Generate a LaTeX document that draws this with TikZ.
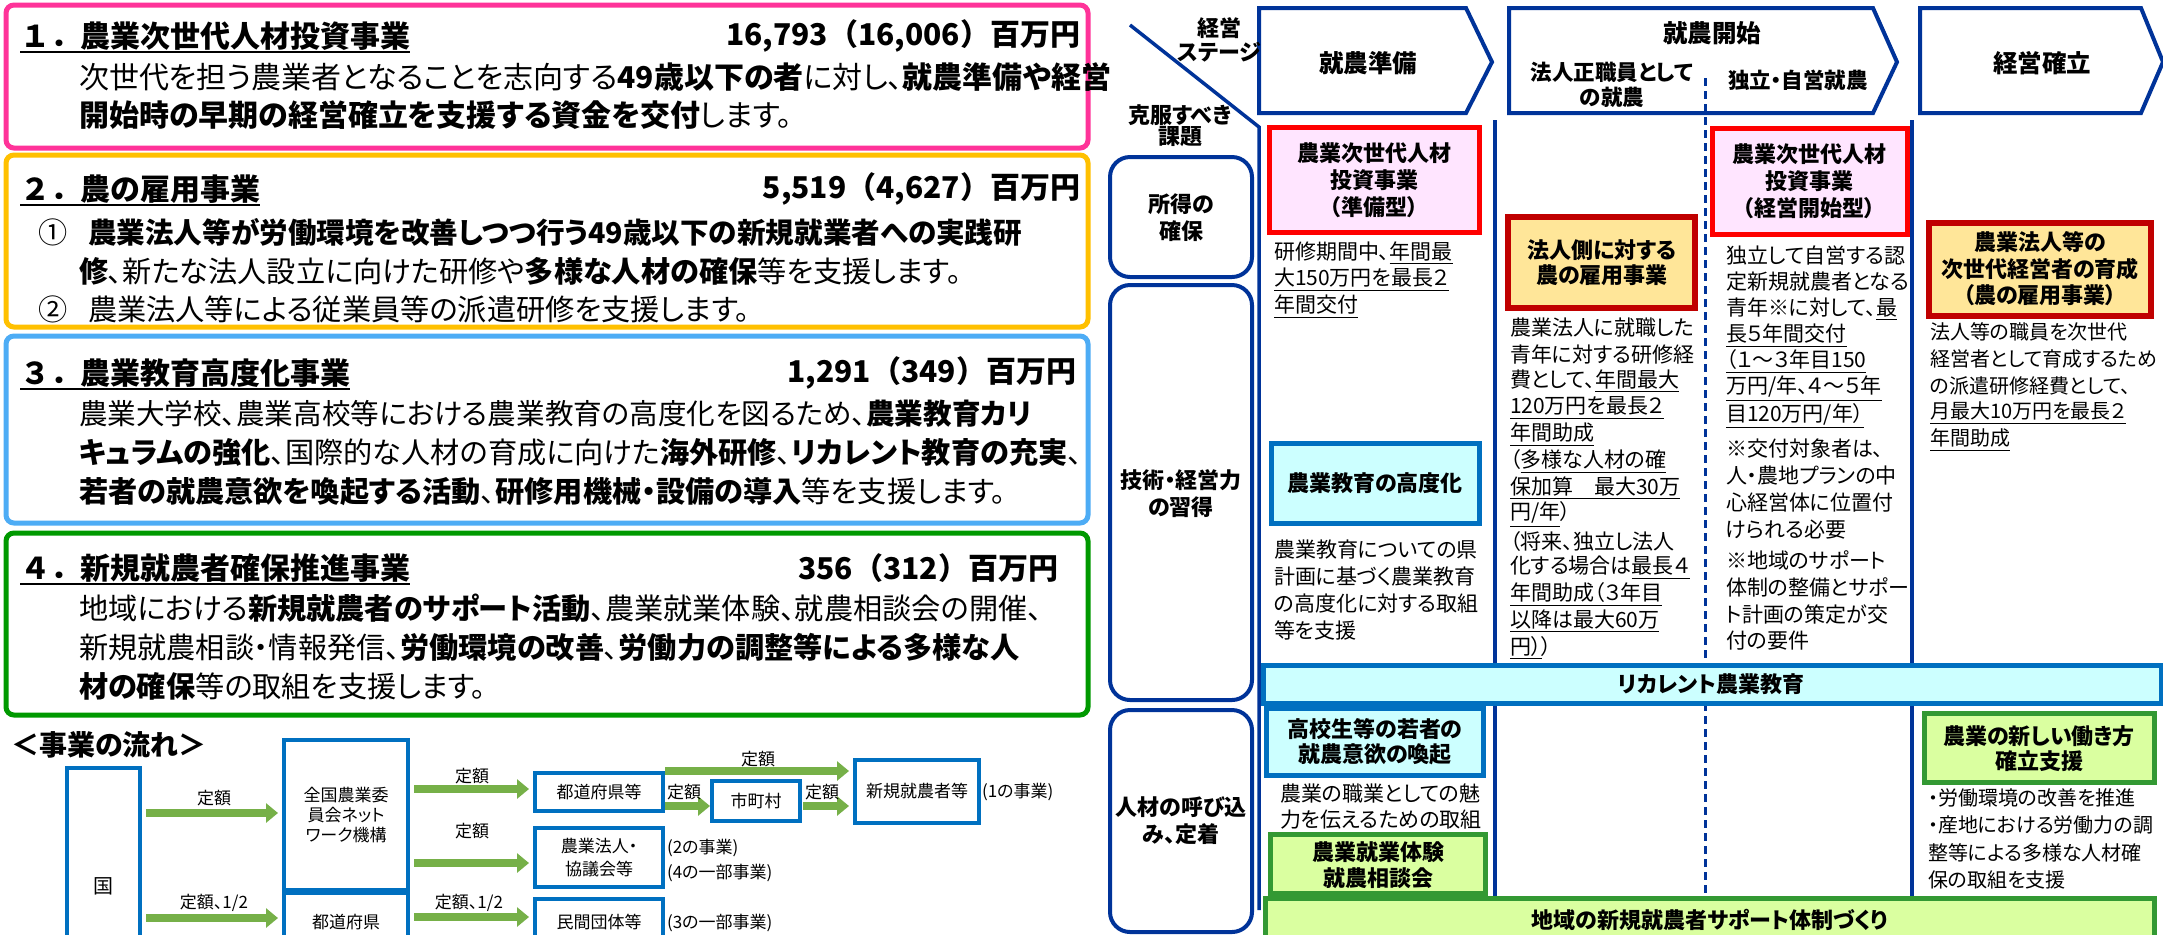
\documentclass[tikz,border=0pt]{standalone}
\usepackage{fontspec}
\setmainfont{Noto Sans CJK JP}[RawFeature=+palt]
\newfontfamily\npfont{Noto Sans CJK JP}
\usetikzlibrary{arrows.meta}
\definecolor{pinkb}{RGB}{255,51,153}
\definecolor{yellb}{RGB}{255,192,0}
\definecolor{blueb}{RGB}{77,172,245}
\definecolor{greenb}{RGB}{0,153,0}
\definecolor{flowblue}{RGB}{0,112,192}
\definecolor{agreen}{RGB}{118,176,72}
\definecolor{navy}{RGB}{0,51,153}
\definecolor{pinkf}{RGB}{255,229,255}
\definecolor{redb}{RGB}{255,0,0}
\definecolor{orf}{RGB}{255,230,153}
\definecolor{darkred}{RGB}{192,0,0}
\definecolor{cyanf}{RGB}{204,255,255}
\definecolor{greenf}{RGB}{218,255,160}
\definecolor{greenbd}{RGB}{51,153,51}
\newcommand\fsz[2]{\fontsize{#1}{#2}\selectfont}
\newcommand\uln[1]{\underline{#1}}
\tikzset{
 bigbox/.style={line width=2.5pt, rounded corners=4pt},
 ttl/.style={anchor=west, font=\npfont\fsz{15}{18}\bfseries},
 amt/.style={anchor=east, font=\npfont\fsz{15}{18}\bfseries},
 lbd/.style={anchor=west, font=\fsz{14.6}{18}},
 lbdone/.style={anchor=west, font=\fsz{15}{18}},
 ulin/.style={line width=1.1pt},
 flowbox/.style={draw=flowblue, line width=2.25pt, fill=white, align=center, font=\fsz{8.5}{10}},
 flowlbl/.style={font=\fsz{8.5}{10}},
 fnote/.style={anchor=west, font=\fsz{8.5}{10}},
 garrow/.style={draw=agreen, line width=4pt, -{Triangle[length=6pt,width=9.5pt]}, shorten <=3pt, shorten >=3pt},
 hdr/.style={draw=navy, line width=2pt, fill=white},
 hdrt/.style={font=\fsz{12.25}{14}\bfseries},
 hsub/.style={font=\fsz{10.75}{12.5}\bfseries, align=center},
 gline/.style={draw=navy, line width=1.75pt},
 gdash/.style={draw=navy, line width=1.5pt, dash pattern=on 4pt off 2.5pt},
 labbox/.style={draw=navy, line width=2pt, rounded corners=10pt},
 labt/.style={font=\fsz{11}{13.5}\bfseries, align=center},
 redbox/.style={draw=redb, fill=pinkf, line width=2.5pt},
 orbox/.style={draw=darkred, fill=orf, line width=3pt},
 cybox/.style={draw=flowblue, fill=cyanf, line width=2.5pt},
 grbox/.style={draw=greenbd, fill=greenf, line width=2.5pt},
 bt/.style={font=\fsz{11}{13.5}\bfseries, align=center},
 ctx/.style={anchor=west, font=\fsz{10.5}{13}},
 ctxs/.style={anchor=west, font=\fsz{10}{13}},
}
\begin{document}
\begin{tikzpicture}[x=0.5pt,y=-0.5pt, every node/.style={inner sep=0pt,outer sep=0pt}]
\useasboundingbox (0,0) rectangle (2163,934);
\clip (0,0) rectangle (2163,934);
\fill[white] (0,0) rectangle (2163,934);

% ---------------- left panel ----------------
\draw[bigbox, draw=pinkb] (6,5) rectangle (1088,148);
\node[ttl] (t1) at (20,36) {１．農業次世代人材投資事業};
\node[amt] (m1) at (1080,36) {16,793（16,006）百万円};
\draw[ulin] ([yshift=-8pt]t1.west) -- ([yshift=-8pt]t1.east);
\node[lbdone] (p1a) at (79,77) {次世代を担う農業者となることを志向する\textbf{49歳以下の者}に対し、\textbf{就農準備や経営}};
\node[lbdone] (p1b) at (79,115) {\textbf{開始時の早期の経営確立を支援する資金を交付}します。};

\draw[bigbox, draw=yellb] (6,155) rectangle (1088,327);
\node[ttl] (t2) at (20,189) {２．農の雇用事業};
\node[amt] (m2) at (1080,189) {5,519（4,627）百万円};
\draw[ulin] ([yshift=-8pt]t2.west) -- ([yshift=-8pt]t2.east);
\node[lbd] (n1) at (39,232) {①};
\node[lbd, font=\fsz{14.3}{18}] (p2a) at (88,232) {\textbf{農業法人等が労働環境を改善しつつ行う49歳以下の新規就業者への実践研}};
\node[lbd] (p2b) at (79,271) {\textbf{修}、新たな法人設立に向けた研修や\textbf{多様な人材の確保}等を支援します。};
\node[lbd] (n2) at (39,309) {②};
\node[lbd] (p2c) at (88,309) {農業法人等による従業員等の派遣研修を支援します。};

\draw[bigbox, draw=blueb] (6,336) rectangle (1088,523);
\node[ttl] (t3) at (20,373) {３．農業教育高度化事業};
\node[amt] (m3) at (1076,373) {1,291（349）百万円};
\draw[ulin] ([yshift=-8pt]t3.west) -- ([yshift=-8pt]t3.east);
\node[lbd, font=\fsz{14.3}{18}] (p3a) at (79,414) {農業大学校、農業高校等における農業教育の高度化を図るため、\textbf{農業教育カリ}};
\node[lbd] (p3b) at (79,453) {\textbf{キュラムの強化}、国際的な人材の育成に向けた\textbf{海外研修}、\textbf{リカレント教育の充実}、};
\node[lbd] (p3c) at (79,492) {\textbf{若者の就農意欲を喚起する活動}、\textbf{研修用機械・設備の導入}等を支援します。};

\draw[bigbox, draw=greenb] (6,533) rectangle (1088,715);
\node[ttl] (t4) at (20,568) {４．新規就農者確保推進事業};
\node[amt] (m4) at (1058,568) {356（312）百万円};
\draw[ulin] ([yshift=-8pt]t4.west) -- ([yshift=-8pt]t4.east);
\node[lbd] (p4a) at (79,608) {地域における\textbf{新規就農者のサポート活動}、農業就業体験、就農相談会の開催、};
\node[lbd] (p4b) at (79,647) {新規就農相談・情報発信、\textbf{労働環境の改善}、\textbf{労働力の調整等による多様な人}};
\node[lbd] (p4c) at (79,686) {\textbf{材の確保}等の取組を支援します。};

\node[anchor=west, font=\fsz{14}{16}\bfseries] (flowttl) at (11,745) {＜事業の流れ＞};

% flow
\node[flowbox, minimum width=36.5pt, minimum height=118pt] (kuni) at (103.5,886) {\fsz{10}{12}国};
\node[flowbox, minimum width=62pt, minimum height=75pt] (zenkoku) at (346,815) {全国農業委\\員会ネット\\ワーク機構};
\node[flowbox, minimum width=62pt, minimum height=29pt] (todofuken) at (346,922) {都道府県};
\node[flowbox, minimum width=64pt, minimum height=19pt] (todoken) at (599,792) {都道府県等};
\node[flowbox, minimum width=64pt, minimum height=29.5pt, font=\fsz{8.5}{11.5}] (hojin) at (599,857.5) {農業法人・\\協議会等};
\node[flowbox, minimum width=64pt, minimum height=23pt] (minkan) at (599,922) {民間団体等};
\node[flowbox, minimum width=44pt, minimum height=20pt] (shicho) at (756,801) {市町村};
\node[flowbox, minimum width=62pt, minimum height=31.5pt] (shinki) at (917,791.5) {新規就農者等};

\draw[garrow] (kuni.east |- 0,813) -- (zenkoku.west |- 0,813);
\draw[garrow] (kuni.east |- 0,918) -- (todofuken.west |- 0,918);
\draw[garrow] (zenkoku.east |- 0,789) -- (todoken.west |- 0,789);
\draw[garrow] (zenkoku.east |- 0,863) -- (hojin.west |- 0,863);
\draw[garrow] (todofuken.east |- 0,917) -- (minkan.west |- 0,917);
\draw[garrow, shorten <=1pt] (todoken.east |- 0,771) -- (shinki.west |- 0,771);
\draw[garrow, shorten <=1pt, shorten >=1pt] (todoken.east |- 0,806) -- (shicho.west |- 0,806);
\draw[garrow, shorten <=1.5pt] (shicho.east |- 0,806) -- (shinki.west |- 0,806);

\node[flowlbl] (l1) at (214,798) {定額};
\node[flowlbl] (l2) at (214,903) {定額、1/2};
\node[flowlbl] (l3) at (472,776) {定額};
\node[flowlbl] (l4) at (472,831) {定額};
\node[flowlbl] (l5) at (469,903) {定額、1/2};
\node[flowlbl] (l6) at (758,759) {定額};
\node[flowlbl] (l7) at (684,792) {定額};
\node[flowlbl] (l8) at (822,792) {定額};
\node[fnote] (f1) at (982,792) {(1の事業)};
\node[fnote] (f2) at (667,848) {(2の事業)};
\node[fnote] (f3) at (667,873) {(4の一部事業)};
\node[fnote] (f4) at (667,923) {(3の一部事業)};

% ---------------- right panel ----------------
\draw[hdr] (1259,8) -- (1466,8) -- (1492,62) -- (1466,113) -- (1259,113) -- cycle;
\draw[hdr] (1509,8) -- (1873,8) -- (1897,62) -- (1873,113) -- (1509,113) -- cycle;
\draw[hdr] (1920,8) -- (2141,8) -- (2163,62) -- (2141,113) -- (1920,113) -- cycle;
\node[hdrt] (h1) at (1368,63) {就農準備};
\node[hdrt] (h2) at (1712,33) {就農開始};
\node[hsub] (h2a) at (1612,85) {法人正職員として\\の就農};
\node[hsub] (h2b) at (1798,80) {独立・自営就農};
\node[hdrt] (h3) at (2042,63) {経営確立};

\node[labt] (kei) at (1219,28) {経営};
\node[labt] (stage) at (1219,52) {ステージ};
\node[labt] (kokufuku) at (1180,115) {克服すべき};
\node[labt] (kadai) at (1180,137) {課題};

\draw[gline] (1130,25) -- (1259,127) -- (1259,910);
\draw[gline] (1495,120) -- (1495,665);
\draw[gline] (1495,703) -- (1495,898);
\draw[gline] (1912,120) -- (1912,665);
\draw[gline] (1912,703) -- (1912,898);
\draw[gdash] (1705,78) -- (1705,665);
\draw[gdash] (1705,703) -- (1705,898);

\draw[labbox] (1110,157) rectangle (1252,277);
\node[labt] (shotoku) at (1181,218) {所得の\\確保};
\draw[labbox] (1110,285) rectangle (1252,700);
\node[labt] (gijutsu) at (1181,494) {技術・経営力\\の習得};
\draw[labbox] (1110,710) rectangle (1252,932);
\node[labt] (jinzai) at (1181,821) {人材の呼び込\\み、定着};

% boxes
\draw[redbox] (1269,127) rectangle (1479,232);
\node[bt] (jb1) at (1374,180) {農業次世代人材\\投資事業\\（準備型）};
\draw[redbox] (1712,128) rectangle (1907,234);
\node[bt] (jb2) at (1809,181.5) {農業次世代人材\\投資事業\\（経営開始型）};
\draw[orbox] (1508,217) rectangle (1695,308);
\node[bt, font=\fsz{11}{12.5}\bfseries] (hj) at (1602,262.5) {法人側に対する\\農の雇用事業};
\draw[orbox] (1929,223) rectangle (2151,316);
\node[bt, font=\fsz{11}{13.25}\bfseries] (ikusei) at (2040,269) {農業法人等の\\次世代経営者の育成\\（農の雇用事業）};
\draw[cybox] (1271,443) rectangle (1479,523);
\node[bt] (kyoiku) at (1375,483) {農業教育の高度化};
\draw[cybox] (1263,665) rectangle (2161,703);
\node[bt] (recurrent) at (1711,684) {リカレント農業教育};
\draw[cybox] (1266,708) rectangle (1483,775);
\node[bt, font=\fsz{11}{12.5}\bfseries] (koko) at (1375,742) {高校生等の若者の\\就農意欲の喚起};
\draw[grbox] (1270,834) rectangle (1485,893);
\node[bt, font=\fsz{11}{13}\bfseries] (taiken) at (1378,865) {農業就業体験\\就農相談会};
\draw[grbox] (1924,713) rectangle (2154,782);
\node[bt, font=\fsz{11}{12.5}\bfseries] (hataraki) at (2039,749) {農業の新しい働き方\\確立支援};
\draw[grbox] (1265,898) rectangle (2154,950);
\node[bt] (chiiki) at (1710,920) {地域の新規就農者サポート体制づくり};

% column texts
\foreach \t [count=\i from 0] in {{研修期間中、\uln{年間最}},{\uln{大150万円を最長２}},{\uln{年間交付}}}
  \node[ctx] (cone\i) at (1274,{253+27*\i}) {\t};
\foreach \t [count=\i from 0] in {{農業教育についての県},{計画に基づく農業教育},{の高度化に対する取組},{等を支援}}
  \node[ctx] (cmid\i) at (1274,{550+26.7*\i}) {\t};
\foreach \t [count=\i from 0] in {{農業の職業としての魅},{力を伝えるための取組}}
  \node[ctx] (clow\i) at (1280,{793+27*\i}) {\t};
\foreach \t [count=\i from 0] in {{農業法人に就職した},{青年に対する研修経},{費として、\uln{年間最大}},{\uln{120万円を最長２}},{\uln{年間助成}},{（\uln{多様な人材の確}},{\uln{保加算　最大30万}},{\uln{円/年}）},{（将来、独立し法人},{化する場合は\uln{最長４}},{\uln{年間助成（３年目}},{\uln{以降は最大60万}},{\uln{円）}）}}
  \node[ctx] (ctwo\i) at (1510,{328+26.67*\i}) {\t};
\foreach \t [count=\i from 0] in {{独立して自営する認},{定新規就農者となる},{青年※に対して、\uln{最}},{\uln{長５年間交付}},{\uln{（１～３年目150}},{\uln{万円/年、４～５年}},{\uln{目120万円/年）}},{※交付対象者は、},{人・農地プランの中},{心経営体に位置付},{けられる必要},{※地域のサポート},{体制の整備とサポー},{ト計画の策定が交},{付の要件}}
  {\pgfmathsetmacro\yy{{255,282,309,336,362,389,416,449,476,503,530,560,587,614,641}[\i]}
   \node[ctx] (cthree\i) at (1726,\yy) {\t};}
\foreach \t [count=\i from 0] in {{法人等の職員を次世代},{経営者として育成するため},{の派遣研修経費として、},{\uln{月最大10万円を最長２}},{\uln{年間助成}}}
  \node[ctxs] (cfour\i) at (1930,{332+27*\i}) {\t};
\foreach \t [count=\i from 0] in {{・労働環境の改善を推進},{・産地における労働力の調},{整等による多様な人材確},{保の取組を支援}}
  \node[ctxs] (cfive\i) at (1928,{798+27.3*\i}) {\t};
\end{tikzpicture}
\end{document}
